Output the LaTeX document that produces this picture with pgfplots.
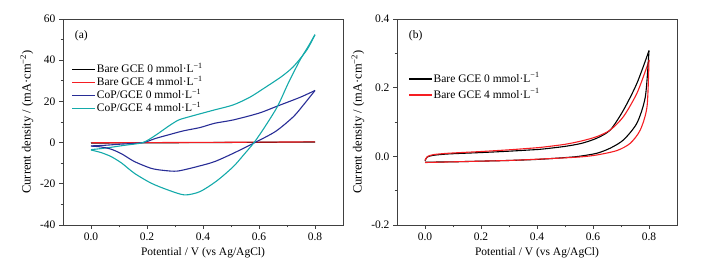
\documentclass[border=0pt]{standalone}
\usepackage{fontspec}
\setmainfont{Liberation Serif}
\usepackage{pgfplots}
\pgfplotsset{compat=1.18}

\definecolor{cvblue}{RGB}{40,45,150}
\definecolor{cvcyan}{RGB}{20,170,170}
\definecolor{cvred}{RGB}{245,30,35}

\pgfplotsset{cvstyle/.style={
  scale only axis, width=280pt, height=206pt,
  xmin=-0.1, xmax=0.9, xtick={0,0.2,0.4,0.6,0.8},
  minor x tick num=1, minor y tick num=1,
  tick align=outside, tick pos=left,
  axis line style={line width=0.8pt, draw=black!75},
  every tick/.style={line width=0.7pt, black!75},
  major tick length=4pt, minor tick length=2.5pt,
  /pgf/number format/assume math mode=true,
  xticklabel style={/pgf/number format/fixed, /pgf/number format/fixed zerofill, /pgf/number format/precision=1},
  tick label style={font=\fontsize{11.5}{13}\selectfont},
  xlabel style={font=\fontsize{11.5}{13}\selectfont},
  ylabel style={font=\fontsize{12.5}{14}\selectfont},
  xlabel={Potential / V (vs Ag/AgCl)},
  ylabel={Current density / (mA·cm\textsuperscript{−2})},
  legend cell align=left,
  legend image code/.code={\draw[#1] (0pt,0pt) -- (23pt,0pt);},
  every axis plot/.append style={line width=1.1pt, smooth, tension=0.45},
}}

\begin{document}
\begin{tikzpicture}
\path[use as bounding box] (0pt,0pt) rectangle (704pt,262pt);
% ---------- (a) ----------
\begin{axis}[cvstyle, at={(63pt,37pt)}, anchor=south west,
  ymin=-40, ymax=60, ytick={-40,-20,0,20,40,60},
  legend style={draw=none, fill=none, at={(0.02,0.66)}, anchor=west,
    font=\fontsize{11.5}{13}\selectfont, row sep=1.5pt,
    nodes={inner sep=1pt, text height=8pt, text depth=1.5pt}},
]
\addplot[black] coordinates {(0,-0.2) (0.4,0.0) (0.8,0.3)};
\addlegendentry{Bare GCE 0 mmol·L\textsuperscript{−1}}
\addplot[cvred] coordinates {(0,-0.1) (0.4,0.1) (0.8,0.35)};
\addlegendentry{Bare GCE 4 mmol·L\textsuperscript{−1}}
\addplot[cvblue] coordinates {(0,-1.6) (0.05,-1.3) (0.1,-0.8) (0.185,0) (0.23,2) (0.275,3.7) (0.33,5.7) (0.389,7.3) (0.442,9.4) (0.508,11) (0.6,14.3) (0.667,17.8) (0.747,22) (0.8,25.3)};
\addlegendentry{CoP/GCE 0 mmol·L\textsuperscript{−1}}
\addplot[cvcyan] coordinates {(0,-3.4) (0.03,-3.0) (0.07,-2.3) (0.12,-1.3) (0.185,0) (0.23,3.5) (0.275,7.8) (0.31,10.8) (0.334,11.9) (0.39,14.0) (0.442,15.9) (0.508,18.3) (0.567,22) (0.627,27.2) (0.68,32) (0.723,36.9) (0.771,45) (0.8,52.4)};
\addlegendentry{CoP/GCE 4 mmol·L\textsuperscript{−1}}
\addplot[cvblue, forget plot] coordinates {(0.8,25.3) (0.76,18.5) (0.723,12.6) (0.66,5.5) (0.585,0) (0.508,-5.2) (0.442,-9.2) (0.389,-11.3) (0.31,-13.8) (0.26,-13.5) (0.215,-12.5) (0.155,-9.2) (0.11,-5.5) (0.072,-3.2) (0.035,-2.1) (0,-1.7)};
\addplot[cvcyan, forget plot] coordinates {(0.8,52.4) (0.775,46.5) (0.747,40.2) (0.705,29) (0.667,17.8) (0.625,8.5) (0.585,0.5) (0.545,-6) (0.508,-11.7) (0.45,-18.5) (0.389,-23.8) (0.334,-25.4) (0.275,-23) (0.215,-19.7) (0.155,-14.9) (0.11,-10) (0.072,-6.8) (0.035,-4.8) (0,-3.6)};
\node[anchor=west, font=\fontsize{11.5}{13}\selectfont] at (rel axis cs:0.03,0.92) {(a)};
\end{axis}
% ---------- (b) ----------
\begin{axis}[cvstyle, at={(397pt,37pt)}, anchor=south west,
  ymin=-0.2, ymax=0.4, ytick={-0.2,0,0.2,0.4},
  yticklabel style={/pgf/number format/fixed, /pgf/number format/fixed zerofill, /pgf/number format/precision=1},
  legend style={draw=none, fill=none, at={(0.03,0.67)}, anchor=west,
    font=\fontsize{11.5}{13}\selectfont, row sep=4.5pt,
    nodes={inner sep=1pt, text height=8pt, text depth=1.5pt}},
]
\addplot[black] coordinates {(0,-0.013) (0.008,-0.002) (0.03,0.003) (0.084,0.007) (0.2,0.011) (0.3,0.015) (0.377,0.0187) (0.418,0.021) (0.5,0.029) (0.56,0.038) (0.614,0.053) (0.662,0.077) (0.709,0.135) (0.757,0.213) (0.8,0.308)};
\addlegendentry{Bare GCE 0 mmol·L\textsuperscript{−1}}
\addplot[cvred] coordinates {(0,-0.012) (0.008,-0.001) (0.03,0.005) (0.084,0.009) (0.2,0.014) (0.3,0.019) (0.377,0.0236) (0.418,0.0265) (0.5,0.035) (0.56,0.045) (0.614,0.0575) (0.662,0.077) (0.709,0.116) (0.757,0.184) (0.793,0.262) (0.8,0.281)};
\addlegendentry{Bare GCE 4 mmol·L\textsuperscript{−1}}
\addplot[black, forget plot] coordinates {(0.8,0.308) (0.787,0.174) (0.757,0.097) (0.709,0.048) (0.662,0.024) (0.614,0.009) (0.55,0.0) (0.495,-0.004) (0.4,-0.009) (0.3,-0.012) (0.2,-0.014) (0.1,-0.016) (0,-0.017)};
\addplot[cvred, forget plot] coordinates {(0.8,0.281) (0.793,0.145) (0.769,0.077) (0.733,0.038) (0.686,0.017) (0.614,0.004) (0.55,-0.002) (0.418,-0.0077) (0.3,-0.012) (0.2,-0.014) (0.1,-0.016) (0,-0.018)};
\node[anchor=west, font=\fontsize{11.5}{13}\selectfont] at (rel axis cs:0.03,0.92) {(b)};
\end{axis}
\end{tikzpicture}
\end{document}
